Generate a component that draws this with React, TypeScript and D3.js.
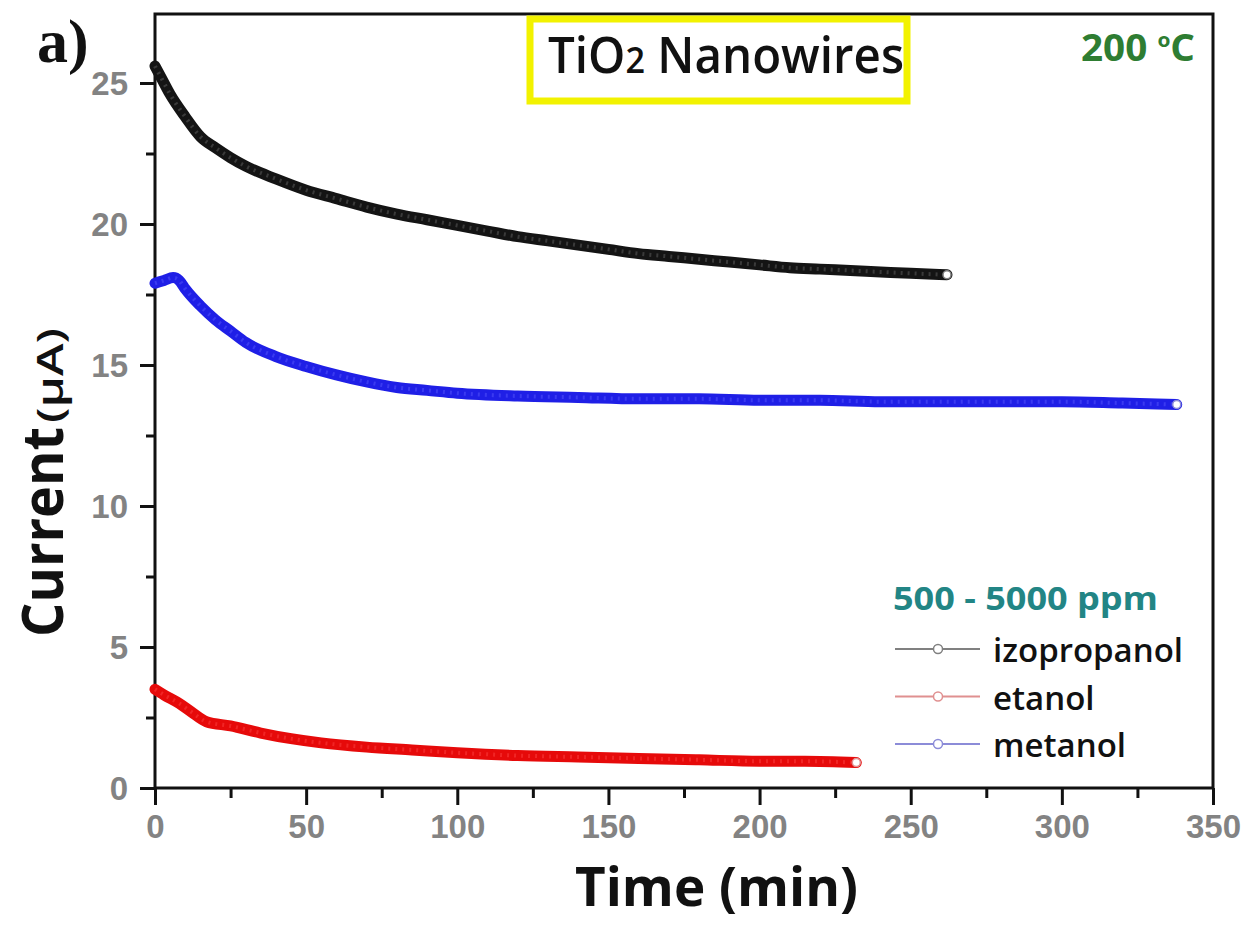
import React, { useEffect, useRef } from 'react'
import * as d3 from 'd3'

// Data
const izoTime = [0, 2, 5, 10, 15, 20, 25, 30, 40, 50, 60, 70, 80, 90, 100, 110, 120, 130, 140, 150, 160, 170, 180, 190, 200, 210, 220, 230, 240, 250, 262]
const izoCurrent = [25.6, 25.2, 24.6, 23.8, 23.1, 22.7, 22.35, 22.05, 21.6, 21.2, 20.9, 20.6, 20.35, 20.15, 19.95, 19.75, 19.55, 19.4, 19.25, 19.1, 18.95, 18.85, 18.75, 18.65, 18.55, 18.45, 18.4, 18.35, 18.3, 18.25, 18.2]

const etaTime = [0, 3, 8, 12, 17, 25, 35, 45, 55, 70, 85, 100, 120, 140, 160, 180, 200, 215, 232]
const etaCurrent = [3.5, 3.3, 3.0, 2.7, 2.35, 2.2, 1.95, 1.75, 1.6, 1.45, 1.35, 1.25, 1.15, 1.1, 1.05, 1.0, 0.95, 0.95, 0.9]

const metTime = [0, 3, 6, 8, 10, 15, 20, 25, 30, 40, 50, 60, 70, 80, 90, 100, 120, 140, 160, 180, 200, 220, 240, 260, 280, 300, 320, 338]
const metCurrent = [17.9, 18.0, 18.1, 18.0, 17.7, 17.1, 16.6, 16.2, 15.8, 15.3, 14.95, 14.65, 14.4, 14.2, 14.1, 14.0, 13.9, 13.85, 13.8, 13.8, 13.75, 13.75, 13.7, 13.7, 13.7, 13.7, 13.65, 13.6]

const seriesNames = ['izopropanol', 'etanol', 'metanol']
const seriesColors = ['#141414', '#e60a0a', '#1f1fe6']
const textureColors = ['#4a4a4a', '#f53030', '#4646f5']
const legendColors = ['#808080', '#e09090', '#8c8cd8']
const xTicks = [0, 50, 100, 150, 200, 250, 300, 350]
const yTicks = [0, 5, 10, 15, 20, 25]

const seriesData = [
    izoTime.map((t, i) => [t, izoCurrent[i]]),
    etaTime.map((t, i) => [t, etaCurrent[i]]),
    metTime.map((t, i) => [t, metCurrent[i]]),
]

// Layout
const W = 1248
const H = 925
const left = 155
const right = 1213
const top = 14
const bottom = 788

const sans = '"Open Sans", sans-serif'

const App = () => {
    const xAxisRef = useRef()
    const yAxisRef = useRef()

    const xScale = d3.scaleLinear().domain([0, 350]).range([left, right])
    const yScale = d3.scaleLinear().domain([0, (bottom - top) / 28.2]).range([bottom, top])

    const linea = d3.line()
        .x(d => xScale(d[0]))
        .y(d => yScale(d[1]))
        .curve(d3.curveMonotoneX)

    useEffect(() => {
        const tickStyle = (g) => {
            g.select('.domain').remove()
            g.selectAll('line').attr('stroke', '#111').attr('stroke-width', 3)
            g.selectAll('text')
                .attr('fill', '#838383')
                .attr('font-family', '"Liberation Sans", Arial, sans-serif')
                .attr('font-weight', 'bold')
                .attr('font-size', 33)
        }
        // x axis: minor + major ticks
        const gx = d3.select(xAxisRef.current)
        gx.selectAll('*').remove()
        gx.append('g').call(d3.axisBottom(xScale).tickValues(d3.range(25, 350, 50)).tickSize(10).tickFormat(''))
            .call(tickStyle)
        gx.append('g').call(d3.axisBottom(xScale).tickValues(xTicks).tickSize(17).tickPadding(10).tickFormat(d3.format('d')))
            .call(tickStyle)

        const gy = d3.select(yAxisRef.current)
        gy.selectAll('*').remove()
        gy.append('g').call(d3.axisLeft(yScale).tickValues(d3.range(2.5, 27.5, 5)).tickSize(9).tickFormat(''))
            .call(tickStyle)
        gy.append('g').call(d3.axisLeft(yScale).tickValues(yTicks).tickSize(15).tickPadding(12).tickFormat(d3.format('d')))
            .call(tickStyle)
        gy.selectAll('text').attr('dy', '0.36em')
    }, [])

    return (
        <div style={{ position: 'absolute', left: 0, top: 0 }}>
            <svg width={W} height={H} style={{ display: 'block', background: '#fff' }}>
                {/* frame */}
                <rect x={left} y={top} width={right - left} height={bottom - top} fill="none" stroke="#111" strokeWidth={3} />

                {/* series */}
                {seriesData.map((d, i) => (
                    <g key={i}>
                        <path d={linea(d)} fill="none" stroke={seriesColors[i]} strokeWidth={11} strokeLinecap="round" strokeLinejoin="round" />
                        <path d={linea(d)} fill="none" stroke={textureColors[i]} strokeWidth={4} strokeDasharray="2 5" opacity={0.7} />
                        <circle cx={xScale(d[d.length - 1][0])} cy={yScale(d[d.length - 1][1])} r={4} fill="#fff" stroke={legendColors[i]} strokeWidth={1.5} />
                    </g>
                ))}

                <g ref={xAxisRef} transform={`translate(0,${bottom})`} />
                <g ref={yAxisRef} transform={`translate(${left},0)`} />

                {/* panel label */}
                <text x={37} y={62} fontFamily='"Liberation Serif", "DejaVu Serif", serif' fontWeight="bold" fontSize={62} fill="#111">a)</text>

                {/* title box */}
                <rect x={530} y={19} width={377} height={82} fill="#fff" stroke="#f2f200" strokeWidth={7} />
                <text x={548} y={73} textLength={356} lengthAdjust="spacingAndGlyphs" fontFamily={sans} fontWeight={600} fontSize={50} fill="#111">
                    TiO<tspan fontSize={36}>2</tspan> Nanowires
                </text>

                <text x={1081} y={61} textLength={114} lengthAdjust="spacingAndGlyphs" fontFamily={sans} fontWeight="bold" fontSize={37} fill="#2e7d32">
                    200 <tspan dy={-14} fontSize={20}>o</tspan><tspan dy={14}>C</tspan>
                </text>

                {/* legend */}
                <text x={893} y={610} textLength={265} lengthAdjust="spacingAndGlyphs" fontFamily={sans} fontWeight="bold" fontSize={32} fill="#228585">500 - 5000 ppm</text>
                {seriesNames.map((name, i) => (
                    <g key={name} transform={`translate(0,${649 + i * 47.5})`}>
                        <line x1={895} x2={980} y1={0} y2={0} stroke={legendColors[i]} strokeWidth={2} />
                        <circle cx={938} cy={0} r={4.5} fill="#fff" stroke={legendColors[i]} strokeWidth={1.5} />
                        <text x={993} y={13} fontFamily={sans} fontWeight={600} fontSize={33} fill="#111">{name}</text>
                    </g>
                ))}

                {/* axis titles */}
                <text x={575} y={906} textLength={283} lengthAdjust="spacingAndGlyphs" fontFamily={sans} fontWeight="bold" fontSize={54} fill="#111">Time (min)</text>
                <text transform={`translate(63,637) rotate(-90)`} textLength={210} lengthAdjust="spacingAndGlyphs" fontFamily={sans} fontWeight="bold" fontSize={58} fill="#111">Current</text>
                <text transform={`translate(63,423) rotate(-90)`} textLength={95} lengthAdjust="spacingAndGlyphs" fontFamily={sans} fontWeight={600} fontSize={36} fill="#111">(μA)</text>
            </svg>
        </div>
    )
}

export default App
